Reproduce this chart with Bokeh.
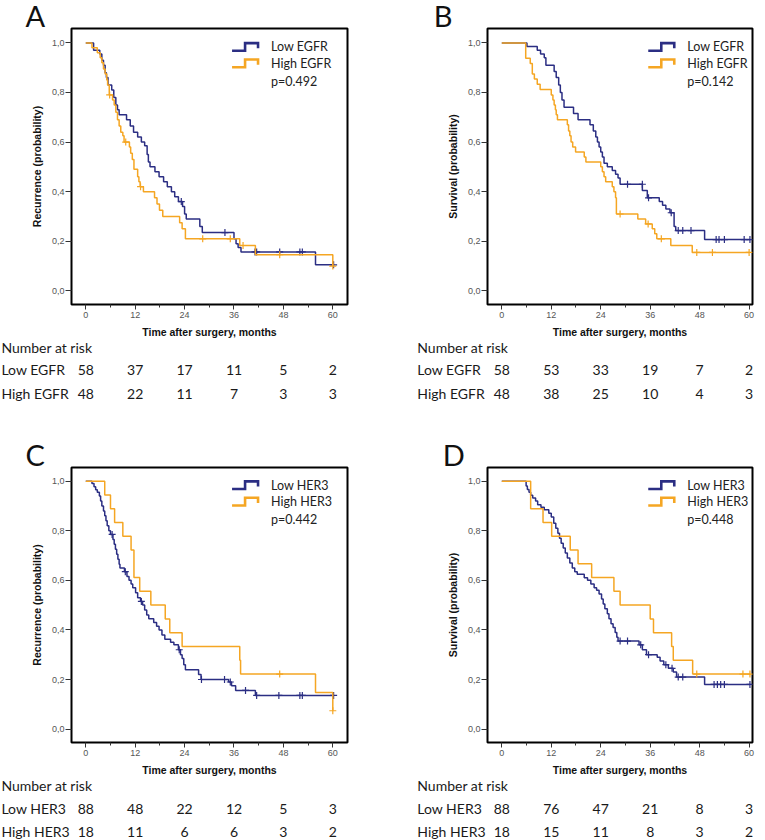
from bokeh.plotting import figure
from bokeh.layouts import row, column
from bokeh.models import (Label, FixedTicker, CustomJSTickFormatter, Range1d)
from bokeh.core.properties import value
from bokeh.embed import file_html
from bokeh.resources import INLINE

BLUE = "#2b2e83"
ORANGE = "#f5a623"

# ---------------- data ----------------
risk_times = [0, 12, 24, 36, 48, 60]
x_ticks = [0, 12, 24, 36, 48, 60]
x_minor = [6, 18, 30, 42, 54]
y_ticks = [0.0, 0.2, 0.4, 0.6, 0.8, 1.0]

# Panel A: recurrence by EGFR
a_low_t = [1.9, 3.4, 3.9, 4.3, 4.7, 5.0, 5.4, 6.3, 6.8, 7.3, 7.7, 8.1, 9.9, 10.8, 11.6,
           12.6, 13.5, 14.3, 14.9, 15.2, 15.6, 16.8, 17.8, 18.9, 19.8, 20.8, 21.6, 22.5,
           23.5, 24.0, 24.4, 27.7, 28.3, 36.0, 36.5, 37.0, 37.7, 55.8]
a_low_s = [0.97, 0.955, 0.93, 0.91, 0.88, 0.86, 0.83, 0.81, 0.78, 0.75, 0.73, 0.71, 0.69,
           0.665, 0.64, 0.62, 0.60, 0.585, 0.55, 0.52, 0.50, 0.48, 0.46, 0.44, 0.42, 0.40,
           0.38, 0.36, 0.34, 0.31, 0.29, 0.26, 0.235, 0.21, 0.19, 0.175, 0.157, 0.105]
a_low_ct = [23.2, 33.8, 41.1, 41.5, 47.1, 52.0, 52.6, 60.2]
a_low_cs = [0.36, 0.235, 0.157, 0.157, 0.157, 0.157, 0.157, 0.105]
a_high_t = [1.5, 2.8, 3.5, 3.9, 4.3, 4.7, 5.1, 5.3, 5.7, 6.5, 6.9, 7.3, 7.7, 8.1, 8.5,
            9.0, 9.3, 10.6, 10.9, 11.3, 11.7, 12.6, 12.9, 13.2, 14.0, 16.7, 17.3, 17.9,
            18.7, 22.8, 23.4, 24.2, 37.4, 41.2, 60.0]
a_high_s = [0.98, 0.96, 0.94, 0.92, 0.895, 0.875, 0.85, 0.83, 0.79, 0.77, 0.75, 0.72, 0.69,
            0.665, 0.64, 0.625, 0.60, 0.58, 0.555, 0.53, 0.49, 0.46, 0.44, 0.42, 0.40,
            0.375, 0.35, 0.325, 0.30, 0.275, 0.25, 0.21, 0.183, 0.146, 0.10]
a_high_ct = [5.8, 9.7, 13.3, 28.4, 35.1, 38.2, 47.1, 60.0]
a_high_cs = [0.79, 0.60, 0.42, 0.21, 0.21, 0.183, 0.146, 0.10]
a_low_risk = [58, 37, 17, 11, 5, 2]
a_high_risk = [48, 22, 11, 7, 3, 3]

# Panel B: survival by EGFR
b_low_t = [6.1, 8.6, 9.4, 10.3, 10.7, 12.7, 13.2, 13.8, 14.2, 14.6, 15.1, 17.4, 18.5, 21.4,
           22.2, 22.8, 23.2, 23.6, 24.0, 24.4, 24.8, 25.6, 26.8, 27.6, 28.2, 28.7, 34.1,
           35.3, 38.2, 39.0, 39.8, 40.8, 41.8, 42.2, 49.2]
b_low_s = [0.985, 0.97, 0.955, 0.94, 0.91, 0.885, 0.86, 0.83, 0.80, 0.77, 0.74, 0.715, 0.69,
           0.67, 0.645, 0.62, 0.60, 0.58, 0.56, 0.54, 0.515, 0.50, 0.485, 0.47, 0.455, 0.43,
           0.405, 0.375, 0.36, 0.345, 0.33, 0.315, 0.26, 0.243, 0.207]
b_low_ct = [30.5, 34.1, 35.6, 41.1, 42.8, 43.9, 45.9, 52.0, 52.7, 54.0, 58.8, 60.2]
b_low_cs = [0.43, 0.43, 0.375, 0.315, 0.243, 0.243, 0.243, 0.207, 0.207, 0.207, 0.207, 0.207]
b_high_t = [5.8, 6.9, 7.4, 7.9, 8.6, 9.3, 12.0, 12.4, 12.7, 13.0, 13.2, 13.5, 15.9, 16.2,
            16.5, 16.8, 17.2, 17.9, 20.0, 20.4, 24.0, 24.4, 24.8, 25.2, 26.8, 27.2, 27.6,
            27.8, 33.0, 34.9, 36.5, 37.1, 37.6, 41.0, 46.2]
b_high_s = [0.938, 0.917, 0.875, 0.854, 0.833, 0.812, 0.79, 0.77, 0.75, 0.73, 0.71, 0.69,
            0.67, 0.645, 0.625, 0.60, 0.58, 0.56, 0.54, 0.52, 0.50, 0.48, 0.46, 0.44, 0.42,
            0.40, 0.375, 0.31, 0.29, 0.27, 0.25, 0.23, 0.21, 0.183, 0.155]
b_high_ct = [28.7, 35.5, 38.7, 47.3, 51.1, 60.0]
b_high_cs = [0.31, 0.27, 0.21, 0.155, 0.155, 0.155]
b_low_risk = [58, 53, 33, 19, 7, 2]
b_high_risk = [48, 38, 25, 10, 4, 3]

# Panel C: recurrence by HER3
c_low_t = [1.5, 2.0, 2.4, 2.8, 3.3, 3.6, 3.9, 4.3, 4.6, 4.9, 5.2, 5.6, 6.0, 6.6, 6.9, 7.2,
           7.5, 7.8, 8.1, 8.3, 9.4, 10.0, 10.5, 11.0, 11.4, 12.1, 12.6, 13.3, 13.8, 14.3,
           14.8, 15.3, 16.5, 17.2, 17.8, 18.5, 19.2, 20.6, 21.4, 22.5, 23.0, 23.4, 23.8,
           24.2, 27.4, 28.0, 34.7, 35.4, 36.4, 41.2]
c_low_s = [0.99, 0.977, 0.965, 0.955, 0.94, 0.92, 0.90, 0.88, 0.86, 0.84, 0.82, 0.80, 0.785,
           0.765, 0.745, 0.725, 0.705, 0.685, 0.665, 0.65, 0.635, 0.615, 0.60, 0.585, 0.57,
           0.55, 0.53, 0.515, 0.50, 0.48, 0.46, 0.445, 0.43, 0.415, 0.40, 0.38, 0.362, 0.35,
           0.34, 0.32, 0.30, 0.285, 0.26, 0.239, 0.22, 0.20, 0.19, 0.175, 0.156, 0.136]
c_low_ct = [6.4, 9.6, 13.5, 22.7, 28.1, 33.7, 35.1, 38.8, 41.5, 46.9, 52.0, 52.6, 60.2]
c_low_cs = [0.785, 0.635, 0.515, 0.32, 0.20, 0.20, 0.19, 0.156, 0.136, 0.136, 0.136, 0.136,
            0.136]
c_high_t = [4.6, 6.0, 7.0, 9.0, 11.0, 11.7, 13.1, 15.8, 19.3, 20.4, 23.4, 37.4, 37.6, 55.8,
            60.0]
c_high_s = [0.944, 0.889, 0.833, 0.778, 0.722, 0.611, 0.556, 0.50, 0.444, 0.389, 0.333,
            0.278, 0.222, 0.148, 0.074]
c_high_ct = [47.1, 60.0]
c_high_cs = [0.222, 0.074]
c_low_risk = [88, 48, 22, 12, 5, 3]
c_high_risk = [18, 11, 6, 6, 3, 2]

# Panel D: survival by HER3
d_low_t = [5.9, 6.2, 6.6, 7.0, 7.5, 8.2, 8.7, 9.5, 10.3, 11.4, 12.0, 12.6, 13.1, 13.6, 14.0,
           14.4, 14.9, 15.4, 15.9, 16.5, 17.1, 17.7, 18.3, 20.0, 20.8, 21.6, 22.4, 23.0,
           23.6, 24.2, 24.6, 25.0, 25.6, 26.0, 26.5, 27.0, 27.5, 27.9, 28.2, 33.3, 34.1,
           35.1, 37.7, 38.4, 39.3, 40.4, 41.6, 42.4, 49.2]
d_low_s = [0.98, 0.966, 0.955, 0.943, 0.932, 0.92, 0.905, 0.895, 0.885, 0.87, 0.855, 0.83,
           0.81, 0.79, 0.77, 0.75, 0.73, 0.71, 0.69, 0.67, 0.65, 0.635, 0.625, 0.61, 0.60,
           0.585, 0.57, 0.56, 0.545, 0.525, 0.505, 0.485, 0.465, 0.445, 0.425, 0.41, 0.39,
           0.37, 0.355, 0.34, 0.32, 0.30, 0.29, 0.275, 0.26, 0.245, 0.23, 0.21, 0.18]
d_low_ct = [28.7, 30.5, 33.7, 35.6, 39.8, 41.3, 42.8, 43.9, 51.5, 52.3, 53.1, 54.0, 60.2]
d_low_cs = [0.355, 0.355, 0.34, 0.30, 0.26, 0.245, 0.21, 0.21, 0.18, 0.18, 0.18, 0.18, 0.18]
d_high_t = [7.0, 10.0, 12.1, 16.6, 18.5, 21.8, 27.2, 28.7, 36.0, 36.8, 41.2, 41.6, 46.3]
d_high_s = [0.889, 0.833, 0.778, 0.722, 0.667, 0.611, 0.556, 0.50, 0.444, 0.389, 0.333,
            0.278, 0.222]
d_high_ct = [47.3, 58.5, 60.2]
d_high_cs = [0.222, 0.222, 0.222]
d_low_risk = [88, 76, 47, 21, 8, 3]
d_high_risk = [18, 15, 11, 8, 3, 2]

TXT_FONT = "Lato"
AX_FONT = "Liberation Sans"
INK = "#1a1a1a"


def blank_fig(w, h, xr, yr):
    f = figure(width=w, height=h, x_range=Range1d(*xr), y_range=Range1d(*yr),
               x_axis_type=None, y_axis_type=None, output_backend="svg",
               toolbar_location=None, title=None, min_border=0, frame_align=False)
    f.outline_line_color = None
    f.grid.visible = False
    f.background_fill_color = "white"
    f.border_fill_color = "white"
    return f


def panel(letter, letter_x, ylabel, low_name, high_name, pval,
          low, high, risk_low, risk_high, left_col, top_row):
    if left_col:
        w, bl, br, xr = 400, 71, 53, (-3.47, 63.57)
    else:
        w, bl, br, xr = 362, 87, 10, (-3.47, 60.82)
    if top_row:
        head_h, ch_h, yr, risk_h, rows = 27, 313, (-0.055, 1.058), 64, (7, 29, 53)
    else:
        head_h, ch_h, yr, risk_h, rows = 62, 312, (-0.054, 1.055), 62, (7, 30, 53)
    bt, bb = 1, 36

    # ---- main chart ----
    p = figure(width=w, height=ch_h, x_range=Range1d(*xr), y_range=Range1d(*yr),
               output_backend="svg", toolbar_location=None, title=None,
               min_border_left=bl, min_border_right=br,
               min_border_top=bt, min_border_bottom=bb, frame_align=False)
    p.background_fill_color = "white"
    p.border_fill_color = "white"
    p.grid.visible = False
    p.outline_line_color = "black"
    p.outline_line_width = 2
    p.outline_line_alpha = 1.0

    p.xaxis.ticker = FixedTicker(ticks=x_ticks, minor_ticks=x_minor)
    p.yaxis.ticker = FixedTicker(ticks=y_ticks)
    p.yaxis.formatter = CustomJSTickFormatter(
        code="return tick.toFixed(1).replace('.', ',');")
    for ax in (p.xaxis[0], p.yaxis[0]):
        ax.axis_line_color = None
        ax.major_tick_in = 0
        ax.major_tick_out = 5
        ax.minor_tick_in = 0
        ax.minor_tick_out = 3
        ax.major_tick_line_color = "#333333"
        ax.minor_tick_line_color = "#333333"
        ax.major_label_text_font = AX_FONT
        ax.major_label_text_font_size = "9px"
        ax.major_label_text_color = "#555555"
        ax.axis_label_text_font = AX_FONT
        ax.axis_label_text_font_style = "bold"
        ax.axis_label_text_font_size = "10.5px"
        ax.axis_label_text_color = "#111111"
    p.yaxis.minor_tick_line_color = None
    p.yaxis.major_tick_out = 6
    p.xaxis.axis_label = "Time after surgery, months"
    p.yaxis.axis_label = ylabel
    p.xaxis.major_label_standoff = 2
    p.yaxis.major_label_standoff = 1
    p.xaxis.axis_label_standoff = 5
    p.yaxis.axis_label_standoff = 6

    for (t, s, ct, cs), col in ((low, BLUE), (high, ORANGE)):
        end = max(t[-1], max(ct))
        xs = [0] + list(t) + [end]
        ys = [1.0] + list(s) + [s[-1]]
        p.step(xs, ys, mode="after", line_color=col, line_width=1.5)
        p.scatter(ct, cs, marker="cross", size=7, line_color=col, line_width=1.2)

    # legend (step-shaped keys)
    lx = 45.0
    rows_y = [0.984, 0.918, 0.845]
    for yy, col, name in ((rows_y[0], BLUE, low_name), (rows_y[1], ORANGE, high_name)):
        p.line([lx - 9.47, lx - 6.31, lx - 6.31, lx - 3.16, lx - 3.16],
               [yy - 0.016, yy - 0.016, yy + 0.015, yy + 0.015, yy - 0.006],
               line_color=col, line_width=2.6, line_join="miter")
        p.add_layout(Label(x=lx, y=yy, text=name, text_font=TXT_FONT,
                           text_font_size="12.5px", text_baseline="middle",
                           text_color="#222222"))
    p.add_layout(Label(x=lx, y=rows_y[2], text=pval, text_font=TXT_FONT,
                       text_font_size="12.5px", text_baseline="middle",
                       text_color="#222222"))

    # full-width x range in the same time units (for header and risk table)
    scale = (w - bl - br) / (xr[1] - xr[0])
    full_x = (xr[0] - bl / scale, xr[1] + br / scale)

    # ---- header with panel letter ----
    hf = blank_fig(w, head_h, full_x, (0, head_h))
    hf.text(x=[letter_x], y=[12.0], text=[letter], text_font=value(TXT_FONT),
            text_font_size=value("29px"), text_baseline="middle",
            text_align="left", text_color="#111111")

    # ---- number-at-risk table ----
    rf = blank_fig(w, risk_h, full_x, (risk_h, 0))
    name_x = -20.5
    rf.text(x=[name_x], y=[rows[0]], text=["Number at risk"], text_font=value(TXT_FONT),
            text_font_size=value("14px"), text_baseline="middle", text_align="left",
            text_color=INK)
    for yy, name, counts in ((rows[1], low_name, risk_low), (rows[2], high_name, risk_high)):
        rf.text(x=[name_x], y=[yy], text=[name], text_font=value(TXT_FONT),
                text_font_size=value("14px"), text_baseline="middle", text_align="left",
                text_color=INK)
        rf.text(x=risk_times, y=[yy] * len(risk_times), text=[str(c) for c in counts],
                text_font=value(TXT_FONT), text_font_size=value("14px"),
                text_baseline="middle", text_align="center", text_color=INK)

    return column(hf, p, rf)


pA = panel("A", -14.65, "Recurrence (probability)", "Low EGFR", "High EGFR", "p=0.492",
           (a_low_t, a_low_s, a_low_ct, a_low_cs), (a_high_t, a_high_s, a_high_ct, a_high_cs),
           a_low_risk, a_high_risk, True, True)
pB = panel("B", -16.5, "Survival (probability)", "Low EGFR", "High EGFR", "p=0.142",
           (b_low_t, b_low_s, b_low_ct, b_low_cs), (b_high_t, b_high_s, b_high_ct, b_high_cs),
           b_low_risk, b_high_risk, False, True)
pC = panel("C", -14.65, "Recurrence (probability)", "Low HER3", "High HER3", "p=0.442",
           (c_low_t, c_low_s, c_low_ct, c_low_cs), (c_high_t, c_high_s, c_high_ct, c_high_cs),
           c_low_risk, c_high_risk, True, False)
pD = panel("D", -14.3, "Survival (probability)", "Low HER3", "High HER3", "p=0.448",
           (d_low_t, d_low_s, d_low_ct, d_low_cs), (d_high_t, d_high_s, d_high_ct, d_high_cs),
           d_low_risk, d_high_risk, False, False)

layout = column(row(pA, pB), row(pC, pD))
open("out.html", "w").write(file_html(layout, INLINE))
